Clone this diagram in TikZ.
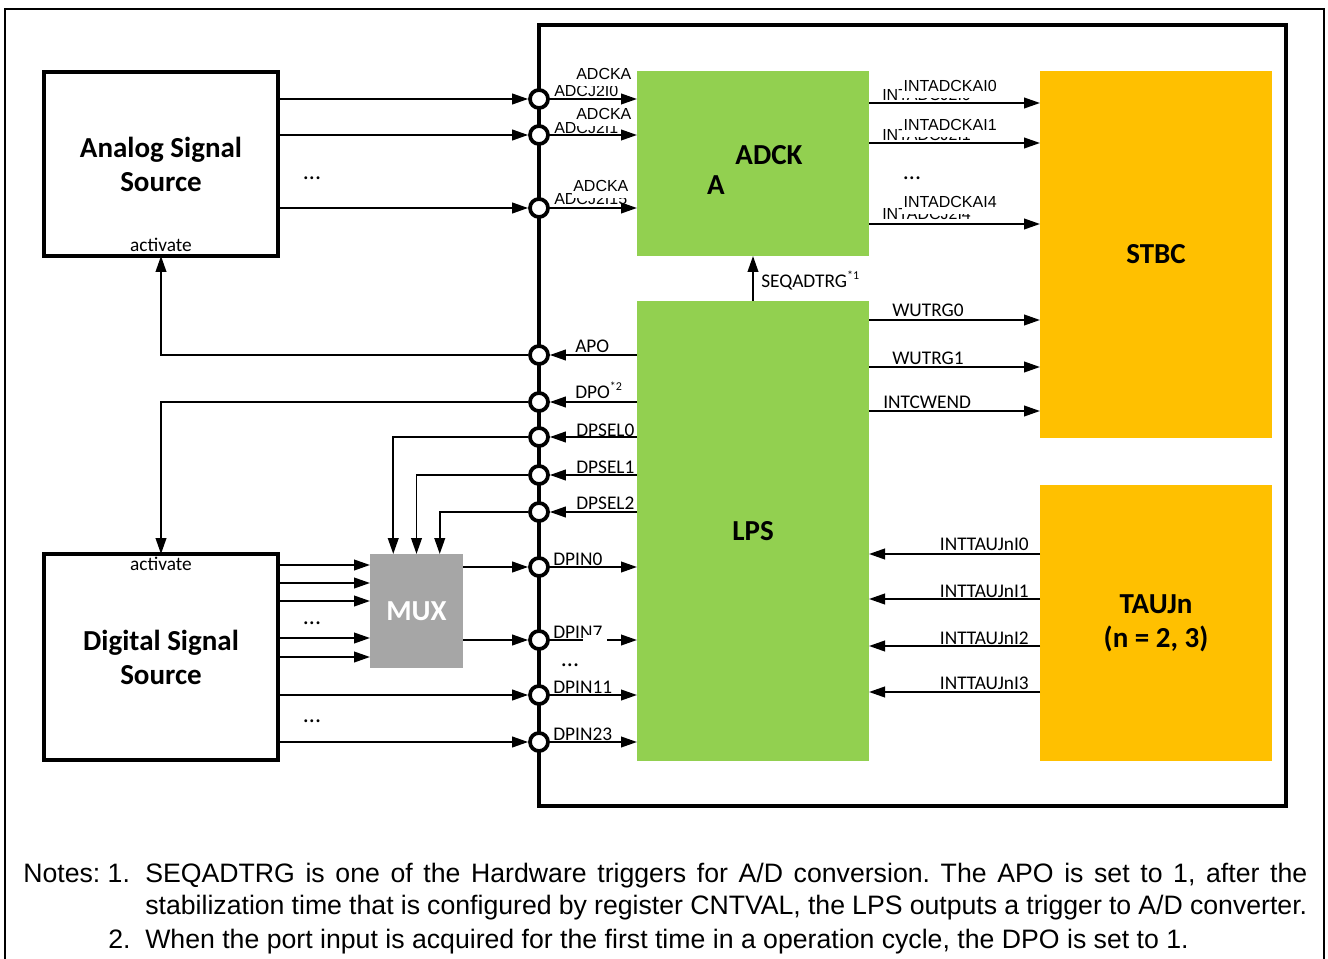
\documentclass[tikz,border=0pt]{standalone}
\usepackage{fontspec}
\setmainfont{Carlito}
\newfontfamily\arialf{Liberation Sans}
\usetikzlibrary{arrows.meta,calc}
\definecolor{lpsgreen}{HTML}{92D050}
\definecolor{stbcyellow}{HTML}{FFC000}
\definecolor{muxgray}{HTML}{A6A6A6}
\newcommand\mkbox[7]{\node[#1, minimum width={(#4-#2)*0.75pt}, minimum height={(#5-#3)*0.75pt}] (#6) at ({(#2+#4)/2},{(#3+#5)/2}) {#7};}
\frenchspacing
\begin{document}
\begin{tikzpicture}[x=0.75pt,y=-0.75pt,
  lbl/.style={font=\fontsize{14.5}{17}\selectfont, inner sep=0pt},
  dts/.style={font=\fontsize{18}{20}\selectfont, inner sep=0pt},
  ari/.style={font=\arialf\fontsize{12}{14}\selectfont, inner sep=0pt},
  arim/.style={font=\arialf\fontsize{12}{14}\selectfont, inner xsep=1pt, inner ysep=4.5pt, fill=white},
  notes/.style={font=\arialf\fontsize{20}{24}\selectfont, inner sep=0pt},
  ttl/.style={font=\bfseries\fontsize{21.75}{25.5}\selectfont, align=center},
  arr/.style={line width=1.4pt, -{Triangle[length=12pt,width=8pt]}},
  port/.style={circle, draw, line width=2.8pt, fill=white, minimum size=13.5pt, inner sep=0pt},
  srcbox/.style={draw, line width=2.5pt, inner sep=0pt, outer sep=0pt},
  fillbox/.style={inner sep=0pt, outer sep=0pt}
]
\useasboundingbox (0,0) rectangle (1328,959);
% frames
\draw[line width=1.5pt] (5,975) -- (5,9) -- (1324,9) -- (1324,975);
\draw[line width=2.6pt] (539,25) rectangle (1286,806);
% boxes
\mkbox{srcbox,ttl}{44}{72}{278}{256}{asrc}{Analog Signal\\Source}
\mkbox{srcbox,ttl}{44}{554}{278}{760}{dsrc}{Digital Signal\\Source}
\mkbox{fillbox,fill=lpsgreen}{637}{71}{869}{256}{adck}{}
\mkbox{fillbox,fill=lpsgreen,ttl}{637}{301}{869}{761}{lps}{LPS}
\mkbox{fillbox,fill=stbcyellow,ttl}{1040}{71}{1272}{438}{stbc}{STBC}
\mkbox{fillbox,fill=stbcyellow,ttl}{1040}{485}{1272}{761}{tauj}{TAUJn\\(n = 2, 3)}
\mkbox{fillbox,fill=muxgray,ttl,text=white}{370}{554}{463}{668}{mux}{MUX}
\node[ttl, anchor=base, inner sep=0pt] (adckt1) at (769,165) {ADCK};
\node[ttl, anchor=base, inner sep=0pt] (adckt2) at (716,195) {A};
% ports
\foreach \n/\y in {p1/99,p2/135,p3/208,pA/355,pD/402,pS0/437,pS1/475,pS2/512,pI0/567,pI7/640,pI11/695,pI23/742}
  \node[port] (\n) at (539,\y) {};
% overlapping arial labels (inputs)
\node[ari, anchor=base west] (l1b) at (554,97) {ADCJ2I0};
\node[arim, anchor=base east] (l1a) at (633,80) {ADCKA};
\node[ari, anchor=base west] (l2b) at (554,134) {ADCJ2I1};
\node[arim, anchor=base east] (l2a) at (633,120) {ADCKA};
\node[ari, anchor=base west] (l3b) at (554,205) {ADCJ2I15};
\node[arim, anchor=base east] (l3a) at (630,192) {ADCKA};
% overlapping arial labels (outputs)
\node[ari, anchor=base west] (o1b) at (882,101) {INTADCJ2I0};
\node[arim, anchor=base west] (o1a) at (902,92) {INTADCKAI0};
\node[ari, anchor=base west] (o2b) at (882,141) {INTADCJ2I1};
\node[arim, anchor=base west] (o2a) at (902,131) {INTADCKAI1};
\node[ari, anchor=base west] (o3b) at (882,220) {INTADCJ2I4};
\node[arim, anchor=base west] (o3a) at (902,208) {INTADCKAI4};
% analog inputs
\foreach \p in {p1,p2,p3}{
  \draw[arr] (asrc.east |- \p) -- (\p.west);
  \draw[arr] (\p.east) -- (\p -| adck.west);
}
% ADCK -> STBC
\foreach \y in {103,143,224}
  \draw[arr] (adck.east |- 0,\y) -- (stbc.west |- 0,\y);
% LPS -> STBC
\foreach \y in {320,367,411}
  \draw[arr] (lps.east |- 0,\y) -- (stbc.west |- 0,\y);
% TAUJ -> LPS
\foreach \y in {554,599,646,692}
  \draw[arr] (tauj.west |- 0,\y) -- (lps.east |- 0,\y);
% SEQADTRG
\draw[arr] (lps.north) -- (adck.south);
% LPS outputs to ports
\foreach \p in {pA,pD,pS0,pS1,pS2}
  \draw[arr] (\p -| lps.west) -- (\p.east);
\draw[arr] (pA.west) -| (asrc.south);
\draw[arr] (pD.west) -| (dsrc.north);
\draw[arr] (pS0.west) -| ($(mux.north west)!0.25!(mux.north east)$);
\draw[arr] (pS1.west) -| ($(mux.north west)!0.5!(mux.north east)$);
\draw[arr] (pS2.west) -| ($(mux.north west)!0.75!(mux.north east)$);
% digital source -> mux
\foreach \y in {565,583,601,638,657}
  \draw[arr] (dsrc.east |- 0,\y) -- (mux.west |- 0,\y);
\draw[arr] (mux.east |- pI0) -- (pI0.west);
\draw[arr] (mux.east |- pI7) -- (pI7.west);
\draw[arr] (dsrc.east |- pI11) -- (pI11.west);
\draw[arr] (dsrc.east |- pI23) -- (pI23.west);
\foreach \p in {pI0,pI7,pI11,pI23}
  \draw[arr] (\p.east) -- (\p -| lps.west);
% labels
\node[lbl, anchor=base] (act1) at (161,252) {activate};
\node[lbl, anchor=base] (act2) at (161,570) {activate};
\node[lbl, anchor=base west] (tA) at (575,353) {APO};
\node[lbl, anchor=base west] (tD) at (575,398) {DPO\raisebox{6pt}{\fontsize{9}{9}\selectfont *2}};
\node[lbl, anchor=base west] (tS0) at (576,436) {DPSEL0};
\node[lbl, anchor=base west] (tS1) at (576,473) {DPSEL1};
\node[lbl, anchor=base west] (tS2) at (576,509) {DPSEL2};
\node[lbl, anchor=base west] (tI0) at (553,565) {DPIN0};
\node[lbl, anchor=base west] (tI7) at (553,638) {DPIN7};
\node[lbl, anchor=base west] (tI11) at (553,693) {DPIN11};
\node[lbl, anchor=base west] (tI23) at (553,740) {DPIN23};
\node[lbl, anchor=base west] (tW0) at (892,317) {WUTRG0};
\node[lbl, anchor=base west] (tW1) at (892,364) {WUTRG1};
\node[lbl, anchor=base west] (tIC) at (883,408) {INTCWEND};
\node[lbl, anchor=base east] (tT0) at (1029,550) {INTTAUJnI0};
\node[lbl, anchor=base east] (tT1) at (1029,597) {INTTAUJnI1};
\node[lbl, anchor=base east] (tT2) at (1029,644) {INTTAUJnI2};
\node[lbl, anchor=base east] (tT3) at (1029,689) {INTTAUJnI3};
\node[lbl, anchor=base west] (tSQ) at (761,288) {SEQADTRG\raisebox{6pt}{\fontsize{9}{9}\selectfont *1}};
% dots
\node[dts, anchor=base] (d1) at (312,180) {...};
\node[dts, anchor=base] (d2) at (912,180) {...};
\node[dts, anchor=base] (d3) at (312,624) {...};
\node[dts, anchor=base] (d4) at (312,722) {...};
\node[dts, anchor=base] (d5) at (570,666) {...};
% white patch near DPIN7
\fill[white] (583,635) rectangle (607,652);
% notes
\node[notes, anchor=base west] (n0) at (23,882) {Notes: 1.};
\node[notes, anchor=base west] (n1) at (145,882) {\makebox[871.5pt][s]{SEQADTRG is one of the Hardware triggers for A/D conversion. The APO is set to 1, after the}};
\node[notes, anchor=base west] (n2) at (145,914) {\makebox[871.5pt][s]{stabilization time that is configured by register CNTVAL, the LPS outputs a trigger to A/D converter.}};
\node[notes, anchor=base west] (n3) at (108,948) {2.};
\node[notes, anchor=base west] (n4) at (145,948) {When the port input is acquired for the first time in a operation cycle, the DPO is set to 1.};
\end{tikzpicture}
\end{document}
